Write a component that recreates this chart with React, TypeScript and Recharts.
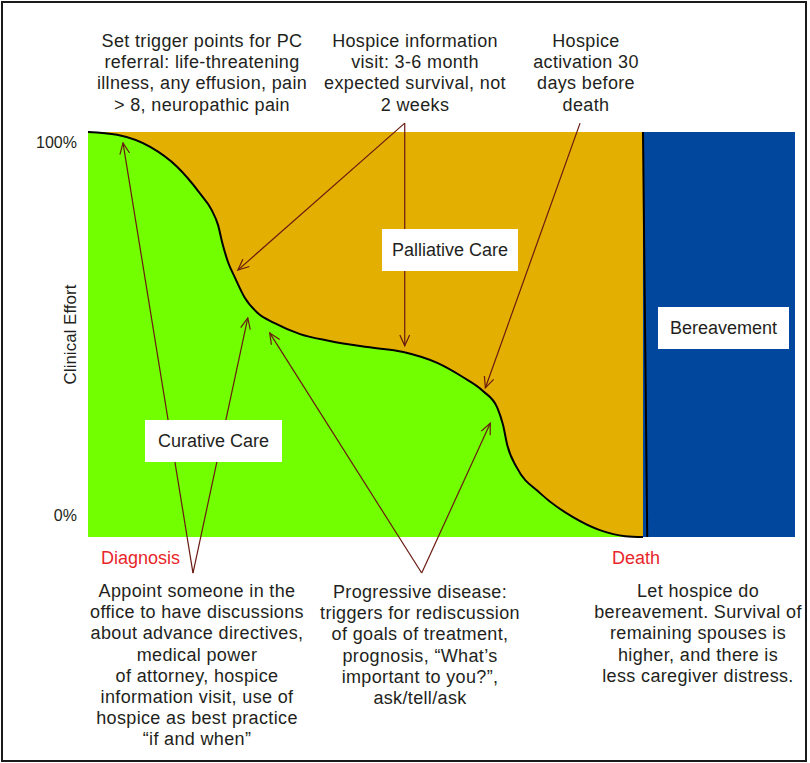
import {
  ComposedChart,
  Area,
  Line,
  XAxis,
  YAxis,
  ReferenceArea,
  ReferenceLine,
} from 'recharts'

// share of clinical effort that is curative, read along the illness course (0 = diagnosis)
const courseX = [
  0, 4.1, 8.8, 12.6, 15.8, 17.5, 18.4, 19.0, 19.8, 20.8, 22.2, 24.0, 26.4, 30.0, 34.2,
  39.5, 44.6, 49.4, 53.0, 55.9, 57.9, 58.7, 59.3, 60.7, 63.9, 68.6, 72.4, 76.0, 78.5,
]
const curativeShare = [
  100, 99.3, 96.3, 91.4, 84.9, 80.7, 77.0, 72.6, 67.9, 64.0, 59.0, 55.3, 52.8, 50.1, 48.4,
  46.9, 45.7, 43.0, 39.5, 36.0, 31.9, 27.7, 22.7, 17.0, 10.9, 4.9, 1.7, 0.2, 0,
]
const DEATH = 78.5
const yTicks = [0, 100]
const xTickLabels = ['Diagnosis', 'Death']

const data = courseX.map((x, i) => ({
  x,
  curative: curativeShare[i],
  palliative: 100 - curativeShare[i],
}))

const GREEN = '#72FF00'
const ORANGE = '#E3AF00'
const BLUE = '#01479D'
const ARROW = '#6a1a12'
const TEXT = '#231f20'
const RED = '#E8262A'
const FONT = '"Liberation Sans", Arial, sans-serif'

// annotation arrows, in chart units: [from, to]
const arrows = [
  [{ x: 14.85, y: -8.9 }, { x: 4.95, y: 97.3 }],
  [{ x: 14.85, y: -8.9 }, { x: 22.6, y: 54.1 }],
  [{ x: 47.2, y: -8.9 }, { x: 25.7, y: 50.4 }],
  [{ x: 47.2, y: -8.9 }, { x: 56.9, y: 28.1 }],
  [{ x: 44.8, y: 102.2 }, { x: 21.2, y: 65.9 }],
  [{ x: 44.8, y: 102.2 }, { x: 44.8, y: 47.2 }],
  [{ x: 69.6, y: 102.2 }, { x: 56.2, y: 36.8 }],
]

const notes = [
  { cx: 202, top: 31, lines: ['Set trigger points for PC', 'referral: life-threatening', 'illness, any effusion, pain', '> 8, neuropathic pain'] },
  { cx: 415, top: 31, lines: ['Hospice information', 'visit: 3-6 month', 'expected survival, not', '2 weeks'] },
  { cx: 586, top: 31, lines: ['Hospice', 'activation 30', 'days before', 'death'] },
  {
    cx: 197,
    top: 581,
    lines: [
      'Appoint someone in the',
      'office to have discussions',
      'about advance directives,',
      'medical power',
      'of attorney, hospice',
      'information visit, use of',
      'hospice as best practice',
      '\u201cif and when\u201d',
    ],
  },
  {
    cx: 420,
    top: 582,
    lines: [
      'Progressive disease:',
      'triggers for rediscussion',
      'of goals of treatment,',
      'prognosis, \u201cWhat\u2019s',
      'important to you?\u201d,',
      'ask/tell/ask',
    ],
  },
  {
    cx: 698,
    top: 581,
    lines: ['Let hospice do', 'bereavement. Survival of', 'remaining spouses is', 'higher, and there is', 'less caregiver distress.'],
  },
]

const boxes = [
  { left: 382, top: 229, width: 136, label: 'Palliative Care' },
  { left: 145, top: 420, width: 137, label: 'Curative Care' },
  { left: 658, top: 307, width: 131, label: 'Bereavement' },
]

const ArrowShape = (p: any) => {
  const { x1, y1, x2, y2 } = p
  const a = Math.atan2(y2 - y1, x2 - x1)
  const L = 12
  const s = 0.42
  const head = `${x2 - L * Math.cos(a - s)},${y2 - L * Math.sin(a - s)} ${x2},${y2} ${
    x2 - L * Math.cos(a + s)
  },${y2 - L * Math.sin(a + s)}`
  return (
    <g>
      <line x1={x1} y1={y1} x2={x2} y2={y2} stroke={ARROW} strokeWidth={1.2} />
      <polyline points={head} fill="none" stroke={ARROW} strokeWidth={1.2} />
    </g>
  )
}

const YTick = (p: any) => {
  const v = p.payload.value
  return (
    <text
      x={p.x - 3}
      y={v === 100 ? p.y + 10 : p.y - 22}
      textAnchor="end"
      dominantBaseline="central"
      fontSize={16}
      fontFamily={FONT}
      fill={TEXT}
    >
      {v}%
    </text>
  )
}

const XTick = (p: any) => {
  const first = p.payload.value === 0
  return (
    <text
      x={first ? p.x + 13 : p.x - 7}
      y={p.y + 13}
      textAnchor={first ? 'start' : 'middle'}
      dominantBaseline="central"
      fontSize={18}
      fontFamily={FONT}
      fill={RED}
    >
      {first ? xTickLabels[0] : xTickLabels[1]}
    </text>
  )
}

export default function App() {
  return (
    <div
      style={{
        position: 'absolute',
        left: 0,
        top: 0,
        width: 810,
        height: 763,
        background: '#fff',
        fontFamily: FONT,
        color: TEXT,
      }}
    >
      <ComposedChart
        width={810}
        height={763}
        data={data}
        margin={{ top: 132, right: 15, bottom: 196, left: 52 }}
      >
        <XAxis
          dataKey="x"
          type="number"
          domain={[0, 100]}
          ticks={[0, DEATH]}
          axisLine={false}
          tickLine={false}
          height={30}
          tick={XTick}
        />
        <YAxis
          type="number"
          domain={[0, 100]}
          ticks={yTicks}
          axisLine={false}
          tickLine={false}
          width={36}
          tick={YTick}
          label={{
            value: 'Clinical Effort',
            angle: -90,
            position: 'center',
            style: { fontSize: 17, fontFamily: FONT, fill: TEXT },
          }}
        />
        <Area
          dataKey="curative"
          stackId="care"
          type="monotone"
          fill={GREEN}
          fillOpacity={1}
          stroke="none"
          isAnimationActive={false}
        />
        <Area
          dataKey="palliative"
          stackId="care"
          type="monotone"
          fill={ORANGE}
          fillOpacity={1}
          stroke="none"
          isAnimationActive={false}
        />
        <Line
          dataKey="curative"
          type="monotone"
          stroke="#000"
          strokeWidth={2}
          dot={false}
          isAnimationActive={false}
        />
        <ReferenceArea
          x1={DEATH}
          x2={100}
          y1={0}
          y2={100}
          fill={BLUE}
          fillOpacity={1}
          stroke="none"
          ifOverflow="visible"
        />
        <ReferenceLine
          segment={[
            { x: DEATH, y: 100 },
            { x: DEATH + 0.6, y: 0 },
          ]}
          stroke="#000"
          strokeWidth={2}
          ifOverflow="visible"
        />
        {arrows.map((seg, i) => (
          <ReferenceLine key={i} segment={seg} ifOverflow="visible" shape={ArrowShape} />
        ))}
      </ComposedChart>

      {boxes.map((b) => (
        <div
          key={b.label}
          style={{
            position: 'absolute',
            left: b.left,
            top: b.top,
            width: b.width,
            height: 42,
            lineHeight: '42px',
            background: '#fff',
            textAlign: 'center',
            fontSize: 18,
          }}
        >
          {b.label}
        </div>
      ))}

      {notes.map((n, i) => (
        <div
          key={i}
          style={{
            position: 'absolute',
            left: n.cx - 130,
            top: n.top,
            width: 260,
            textAlign: 'center',
            fontSize: 18,
            lineHeight: '21.2px',
            letterSpacing: 0.35,
            whiteSpace: 'pre',
          }}
        >
          {n.lines.join('\n')}
        </div>
      ))}

      <div
        style={{
          position: 'absolute',
          left: 1,
          top: 1,
          width: 806,
          height: 761,
          border: '2px solid #1a1a1a',
          boxSizing: 'border-box',
          pointerEvents: 'none',
        }}
      />
    </div>
  )
}
